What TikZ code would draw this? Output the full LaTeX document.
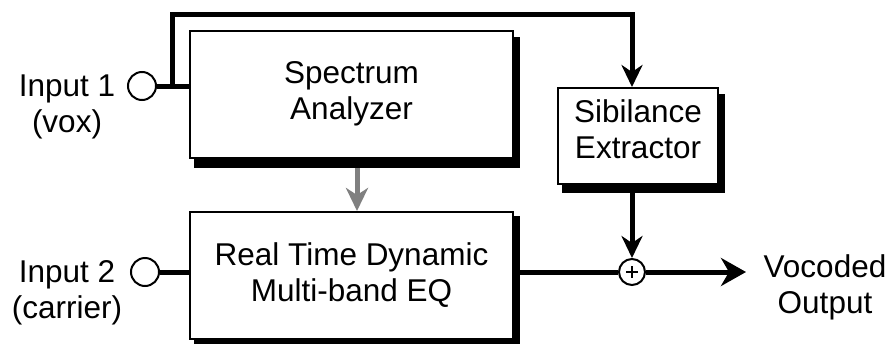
\documentclass[tikz,border=0pt]{standalone}
\usepackage{fontspec}
\setmainfont{Liberation Sans}
\usetikzlibrary{arrows.meta,calc,backgrounds}
\definecolor{grayc}{RGB}{128,128,128}
\begin{document}
\begin{tikzpicture}[x=1pt,y=-1pt,
  box/.style={draw, line width=2pt, fill=white, inner sep=0pt},
  lbl/.style={font=\fontsize{31.5}{36}\selectfont, align=center, inner sep=0pt},
  sig/.style={line width=5pt},
  port/.style={circle, draw, line width=2pt, minimum size=28pt, inner sep=0pt, fill=white},
  tipA/.style={-{Stealth[length=22pt,width=21pt,inset=7pt]}},
  shadow/.style={fill=black}
  ]
\useasboundingbox (0,0) rectangle (889,343);
% boxes
\node[box, lbl, minimum width=323pt, minimum height=127pt] (sa) at (351.5,94) {Spectrum\\Analyzer};
\node[box, lbl, minimum width=323pt, minimum height=127pt] (eq) at (351.5,275.5) {Real Time Dynamic\\Multi-band EQ};
\node[box, minimum width=160pt, minimum height=96pt] (sib) at (638,136) {};
\node[lbl] (sibt) at (638,129) {Sibilance\\Extractor};
% shadows
\begin{scope}[on background layer]
  \fill[shadow] ($(sa.north west)+(5,7)$) rectangle ($(sa.south east)+(6,9)$);
  \fill[shadow] ($(eq.north west)+(5,5)$) rectangle ($(eq.south east)+(6,9)$);
  \fill[shadow] ($(sib.north west)+(5,7)$) rectangle ($(sib.south east)+(6,8)$);
\end{scope}
% ports and labels
\node[port] (in1) at (142,86) {};
\node[port] (in2) at (145,272) {};
\node[lbl] (in1t) at (67,107) {Input 1\\(vox)};
\node[lbl] (in2t) at (67,293) {Input 2\\(carrier)};
\node[lbl] (outt) at (825,287) {Vocoded\\Output};
\node[port, minimum size=26pt] (sum) at (632,272) {};
\draw[line width=2pt] ($(sum.center)+(-6,0)$) -- ($(sum.center)+(6,0)$)
                      ($(sum.center)+(0,-6)$) -- ($(sum.center)+(0,6)$);
% coordinates
\coordinate (br) at (172,86);
\coordinate (tl) at (172,14);
\coordinate (tr) at (632,14);
\coordinate (gtop) at (357,168);
\coordinate (outp) at (746,272);
% connectors
\draw[sig] (in1.east) -- (in1.east -| sa.west);
\draw[sig, tipA] (br) -- (tl) -- (tr) -- (tr |- sib.north);
\draw[sig, tipA] (sib.south -| sum) -- (sum.north);
\draw[sig] (in2.east) -- (in2.east -| eq.west);
\draw[sig] (eq.east |- sum) -- (sum.west);
\draw[sig, -{Stealth[length=25pt,width=28pt,inset=8pt]}] (sum.east) -- (outp);
\draw[line width=5pt, draw=grayc, -{Stealth[length=23pt,width=22pt,inset=7pt]}] (gtop) -- (gtop |- eq.north);
\end{tikzpicture}
\end{document}
